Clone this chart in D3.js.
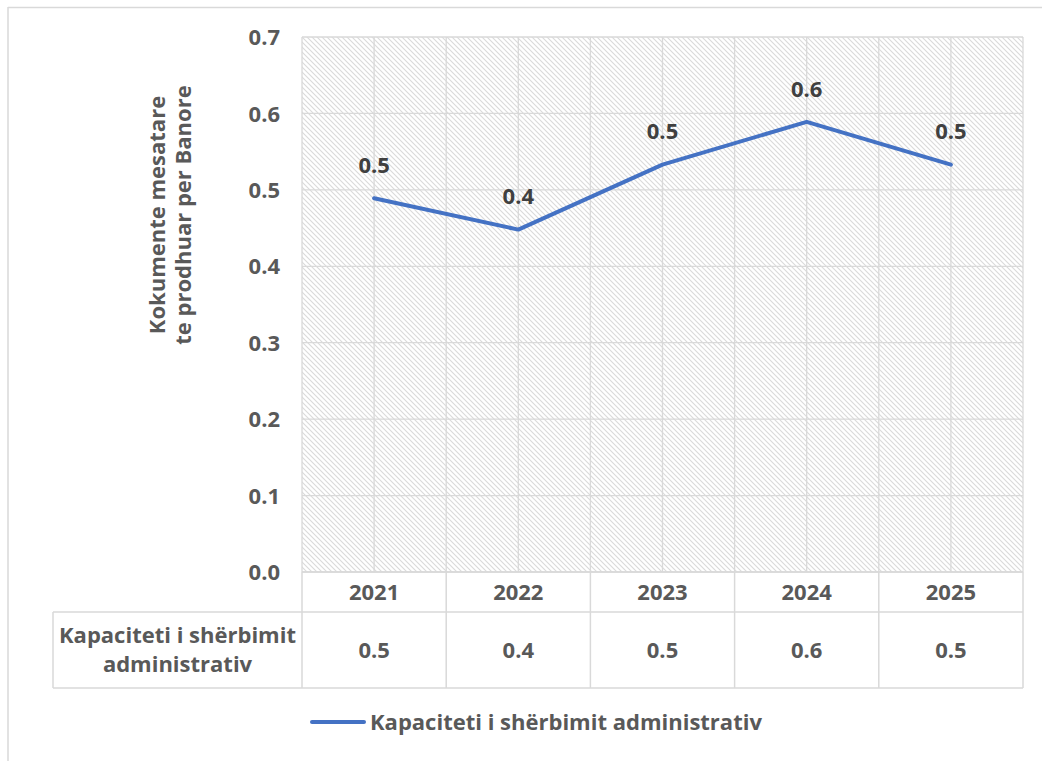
<!DOCTYPE html>
<html>
<head>
<meta charset="utf-8">
<script src="https://cdn.jsdelivr.net/npm/d3@7"></script>
<style>
  html, body { margin: 0; padding: 0; background: #fff; }
  svg { display: block; }
  text { font-family: "Open Sans", sans-serif; font-weight: 700; }
</style>
</head>
<body>
<svg id="chart" width="1042" height="761"></svg>
<script>
const years = ["2021", "2022", "2023", "2024", "2025"];
const seriesName = "Kapaciteti i shërbimit administrativ";
const values = [0.489, 0.448, 0.533, 0.589, 0.533];
const yTicks = [0, 0.1, 0.2, 0.3, 0.4, 0.5, 0.6, 0.7];
const yTitle = ["Kokumente mesatare", "te prodhuar per Banore"];
const tableNameLines = ["Kapaciteti i shërbimit", "administrativ"];

const svg = d3.select("#chart");
const W = 1042, H = 761;
const plot = { left: 302, right: 1023, top: 37, bottom: 572 };
const gridColor = "#d9d9d9";
const textColor = "#595959";
const labelColor = "#404040";
const lineColor = "#4472C4";
const fmt = d3.format(".1f");
const FS = 22;

// outer chart border (only top and left visible)
svg.append("line").attr("x1", 8).attr("x2", W).attr("y1", 7.5).attr("y2", 7.5)
  .attr("stroke", gridColor).attr("stroke-width", 1.5);
svg.append("line").attr("x1", 8).attr("x2", 8).attr("y1", 7).attr("y2", H)
  .attr("stroke", gridColor).attr("stroke-width", 1.5);

// hatch pattern
const defs = svg.append("defs");
const pat = defs.append("pattern").attr("id", "hatch")
  .attr("patternUnits", "userSpaceOnUse").attr("width", 5).attr("height", 5);
pat.append("rect").attr("width", 5).attr("height", 5).attr("fill", "#fff");
pat.append("path").attr("d", "M-1,-1 L6,6 M-1,4 L1,6 M4,-1 L6,1")
  .attr("stroke", "#dadada").attr("stroke-width", 1.1);

const x = d3.scaleBand().domain(years).range([plot.left, plot.right]).padding(0);
const y = d3.scaleLinear().domain([0, 0.7]).range([plot.bottom, plot.top]);

svg.append("rect").attr("x", plot.left).attr("y", plot.top)
  .attr("width", plot.right - plot.left).attr("height", plot.bottom - plot.top)
  .attr("fill", "url(#hatch)");

// horizontal gridlines
svg.append("g").selectAll("line").data(yTicks).join("line")
  .attr("x1", plot.left).attr("x2", plot.right)
  .attr("y1", d => y(d)).attr("y2", d => y(d))
  .attr("stroke", gridColor).attr("stroke-width", 1.3);

// vertical gridlines at boundaries and centers
const vPos = [];
years.forEach(yr => { vPos.push(x(yr)); vPos.push(x(yr) + x.bandwidth() / 2); });
vPos.push(plot.right);
svg.append("g").selectAll("line").data(vPos).join("line")
  .attr("x1", d => d).attr("x2", d => d)
  .attr("y1", plot.top).attr("y2", plot.bottom)
  .attr("stroke", gridColor).attr("stroke-width", 1.3);

// y-axis tick labels
const yAxis = d3.axisLeft(y).tickValues(yTicks).tickFormat(fmt).tickSize(0).tickPadding(0);
const ya = svg.append("g").attr("transform", `translate(280,0)`).call(yAxis);
ya.select(".domain").remove();
ya.selectAll("text").attr("fill", textColor).attr("font-size", FS)
  .attr("font-family", "Open Sans").attr("font-weight", 700).attr("dy", "0.35em");

// y-axis title
const yt = svg.append("text").attr("transform", "translate(170,215) rotate(-90)")
  .attr("text-anchor", "middle").attr("fill", textColor).attr("font-size", FS);
yTitle.forEach((t, i) => {
  yt.append("tspan").attr("x", 0).attr("y", (i - 0.5) * 26).attr("dy", "0.35em").text(t);
});

// line
const cx = d => x(d) + x.bandwidth() / 2;
const lineGen = d3.line().x((d, i) => cx(years[i])).y(d => y(d));
svg.append("path").datum(values).attr("d", lineGen)
  .attr("fill", "none").attr("stroke", lineColor).attr("stroke-width", 4)
  .attr("stroke-linejoin", "round").attr("stroke-linecap", "round");

// data labels
svg.append("g").selectAll("text").data(values).join("text")
  .attr("x", (d, i) => cx(years[i])).attr("y", d => y(d) - 33)
  .attr("dy", "0.35em").attr("text-anchor", "middle")
  .attr("fill", labelColor).attr("font-size", FS).text(d => fmt(d));

// data table
const tb = { row1Top: plot.bottom, row1Bot: 612, row2Bot: 688, left: 53 };
const tg = svg.append("g");
const hl = [
  [plot.left, plot.right, tb.row1Top],
  [tb.left, plot.right, tb.row1Bot],
  [tb.left, plot.right, tb.row2Bot]
];
tg.selectAll("line.h").data(hl).join("line").attr("class", "h")
  .attr("x1", d => d[0]).attr("x2", d => d[1]).attr("y1", d => d[2]).attr("y2", d => d[2])
  .attr("stroke", gridColor).attr("stroke-width", 1.5);
const vl = years.map(yr => x(yr)).concat([plot.right]);
tg.selectAll("line.v").data(vl).join("line").attr("class", "v")
  .attr("x1", d => d).attr("x2", d => d).attr("y1", tb.row1Top).attr("y2", tb.row2Bot)
  .attr("stroke", gridColor).attr("stroke-width", 1.5);
tg.append("line").attr("x1", tb.left).attr("x2", tb.left)
  .attr("y1", tb.row1Bot).attr("y2", tb.row2Bot)
  .attr("stroke", gridColor).attr("stroke-width", 1.5);

tg.selectAll("text.yr").data(years).join("text").attr("class", "yr")
  .attr("x", d => cx(d)).attr("y", (tb.row1Top + tb.row1Bot) / 2).attr("dy", "0.35em")
  .attr("text-anchor", "middle").attr("fill", textColor).attr("font-size", FS).text(d => d);
tg.selectAll("text.val").data(values).join("text").attr("class", "val")
  .attr("x", (d, i) => cx(years[i])).attr("y", (tb.row1Bot + tb.row2Bot) / 2).attr("dy", "0.35em")
  .attr("text-anchor", "middle").attr("fill", textColor).attr("font-size", FS).text(d => fmt(d));
const nm = tg.append("text").attr("text-anchor", "middle").attr("fill", textColor).attr("font-size", FS);
tableNameLines.forEach((t, i) => {
  nm.append("tspan").attr("x", (tb.left + plot.left) / 2)
    .attr("y", (tb.row1Bot + tb.row2Bot) / 2 + (i - 0.5) * 29).attr("dy", "0.35em").text(t);
});

// legend
const lg = svg.append("g");
lg.append("line").attr("x1", 312).attr("x2", 364).attr("y1", 722).attr("y2", 722)
  .attr("stroke", lineColor).attr("stroke-width", 4).attr("stroke-linecap", "round");
lg.append("text").attr("x", 370).attr("y", 722).attr("dy", "0.35em")
  .attr("fill", textColor).attr("font-size", FS).text(seriesName);
</script>
</body>
</html>
